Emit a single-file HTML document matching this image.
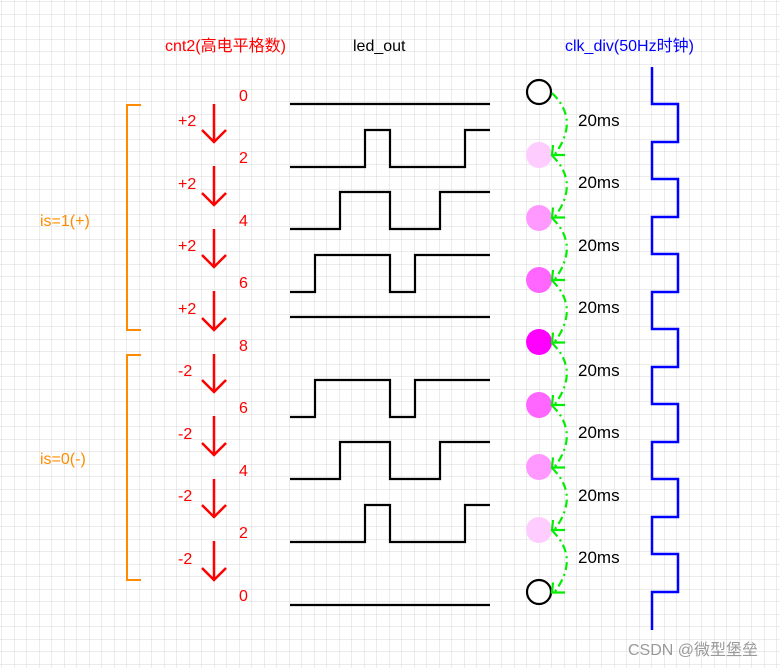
<!DOCTYPE html>
<html><head><style>
body{margin:0;width:780px;height:668px;overflow:hidden;background:#fff;}
svg{display:block;font-family:"Liberation Sans","Noto Sans CJK SC",sans-serif;}
</style></head><body>
<svg width="780" height="668" xmlns="http://www.w3.org/2000/svg">
<defs>
<pattern id="g" width="12.5" height="12.5" patternUnits="userSpaceOnUse" x="2" y="2">
<path d="M12.5 0V12.5M0 12.5H12.5" stroke="#dadada" stroke-width="1" fill="none"/>
</pattern>
</defs>
<rect width="780" height="668" fill="url(#g)"/>
<text x="165" y="51" font-size="16" fill="#ff0000">cnt2(高电平格数)</text>
<text x="353" y="51" font-size="16" fill="#000">led_out</text>
<text x="565" y="51" font-size="16" fill="#0000ff">clk_div(50Hz时钟)</text>

<g fill="#ff0000" font-size="16">
<text x="239" y="101">0</text><text x="239" y="163">2</text><text x="239" y="226">4</text><text x="239" y="288">6</text><text x="239" y="351">8</text>
<text x="239" y="413">6</text><text x="239" y="476">4</text><text x="239" y="538">2</text><text x="239" y="601">0</text>
<text x="178" y="126">+2</text><text x="178" y="189">+2</text><text x="178" y="251">+2</text><text x="178" y="314">+2</text>
<text x="178" y="376">-2</text><text x="178" y="439">-2</text><text x="178" y="501">-2</text><text x="178" y="564">-2</text>
</g>
<g stroke="#ff0000" stroke-width="2.5" fill="none">
<path d="M214 104V142M202 130L214 142L226 130"/>
<path d="M214 166V205M202 193L214 205L226 193"/>
<path d="M214 229V267M202 255L214 267L226 255"/>
<path d="M214 291V330M202 318L214 330L226 318"/>
<path d="M214 354V392M202 380L214 392L226 380"/>
<path d="M214 416V455M202 443L214 455L226 443"/>
<path d="M214 479V517M202 505L214 517L226 505"/>
<path d="M214 541V580M202 568L214 580L226 568"/>
</g>

<g stroke="#ff8c00" stroke-width="2" fill="none">
<path d="M141 105H127V330H141"/>
<path d="M141 355H127V580H141"/>
</g>
<text x="40" y="226" font-size="16" fill="#ff8c00">is=1(+)</text>
<text x="40" y="464" font-size="16" fill="#ff8c00">is=0(-)</text>

<g stroke="#000" stroke-width="2.2" fill="none">
<path d="M290 104H490"/>
<path d="M290 167H365V130H390V167H465V130H490"/>
<path d="M290 229H340V192H390V229H440V192H490"/>
<path d="M290 292H315V255H390V292H415V255H490"/>
<path d="M290 317H490"/>
<path d="M290 417H315V380H390V417H415V380H490"/>
<path d="M290 479H340V442H390V479H440V442H490"/>
<path d="M290 542H365V505H390V542H465V505H490"/>
<path d="M290 605H490"/>
</g>

<circle cx="539" cy="92" r="12" fill="#fff" stroke="#000" stroke-width="2.2"/>
<circle cx="539" cy="155" r="13" fill="#ffccff"/>
<circle cx="539" cy="218" r="13" fill="#ff99ff"/>
<circle cx="539" cy="280" r="13" fill="#ff66ff"/>
<circle cx="539" cy="342" r="13" fill="#ff00ff"/>
<circle cx="539" cy="405" r="13" fill="#ff66ff"/>
<circle cx="539" cy="467" r="13" fill="#ff99ff"/>
<circle cx="539" cy="530" r="13" fill="#ffccff"/>
<circle cx="539" cy="592" r="12" fill="#fff" stroke="#000" stroke-width="2.2"/>

<g stroke="#00ee00" stroke-width="2.2" fill="none">
<g id="ga">
<path d="M552 93Q580 120 555 154" stroke-dasharray="8,4,2,4"/>
<path d="M553 145L552 155H565"/>
</g>
<use href="#ga" y="62.5"/><use href="#ga" y="125"/><use href="#ga" y="187.5"/>
<use href="#ga" y="250"/><use href="#ga" y="312.5"/><use href="#ga" y="375"/><use href="#ga" y="437.5"/>
</g>
<g font-size="17" fill="#000">
<text x="578" y="126">20ms</text><text x="578" y="188">20ms</text><text x="578" y="251">20ms</text><text x="578" y="313">20ms</text>
<text x="578" y="376">20ms</text><text x="578" y="438">20ms</text><text x="578" y="501">20ms</text><text x="578" y="563">20ms</text>
</g>

<path d="M652 67V104H678V142H652V179H678V217H652V254H678V292H652V329H678V367H652V404H678V442H652V479H678V517H652V554H678V592H652V630" stroke="#0000ff" stroke-width="2.5" fill="none"/>

<text x="628" y="655" font-size="16" fill="#999">CSDN @微型堡垒</text>
</svg>
</body></html>
